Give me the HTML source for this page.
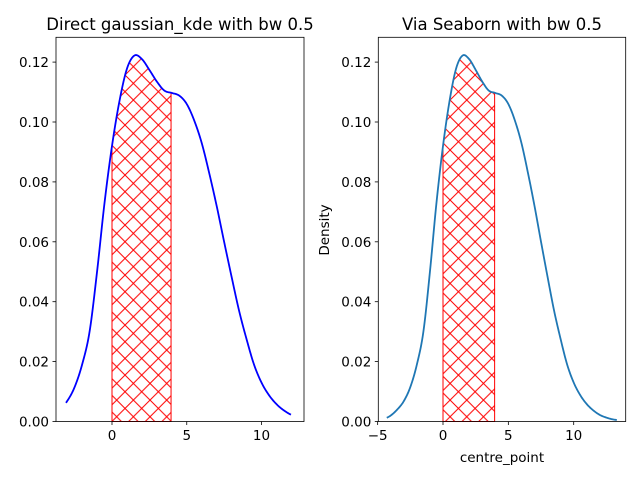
<!DOCTYPE html>
<html><head><meta charset="utf-8"><style>
body{margin:0;background:#fff;}
svg{display:block;font-family:"DejaVu Sans","Liberation Sans",sans-serif;}
</style></head><body>
<svg id="chart" width="640" height="480" viewBox="0 0 640 480">
<defs>
<pattern id="hatch" patternUnits="userSpaceOnUse" width="16.67" height="16.67">
<path d="M0,0L16.67,16.67M16.67,0L0,16.67" stroke="red" stroke-width="1"/>
</pattern>
</defs>
<rect width="640" height="480" fill="#fff"/>
<g id="left"></g>
<g id="right"></g>
</svg>
<script>
const kdeX = [-4.5,-4,-3.5,-3,-2.5,-2,-1.5,-1,-0.5,0,0.5,1,1.5,2,2.5,3,3.5,4,4.5,5,5.5,6,6.5,7,7.5,8,8.5,9,9.5,10,10.5,11,11.5,12,12.5,13,13.5];
const kdeY = [0.0008,0.0020,0.0040,0.0068,0.0115,0.0190,0.0300,0.0500,0.0730,0.0920,0.1070,0.1178,0.1222,0.1210,0.1174,0.1135,0.1105,0.1097,0.1088,0.1060,0.1005,0.0930,0.0830,0.0720,0.0600,0.0483,0.0370,0.0275,0.0190,0.0130,0.0088,0.0058,0.0037,0.0022,0.0013,0.0007,0.0004];
const shadeRange = [0, 3.95];
const leftXTicks = [0,5,10];
const rightXTicks = [-5,0,5,10];
const yTicks = [0.00,0.02,0.04,0.06,0.08,0.10,0.12];
const NS="http://www.w3.org/2000/svg";
function mk(tag,attrs,parent){const e=document.createElementNS(NS,tag);for(const k in attrs)e.setAttribute(k,attrs[k]);parent.appendChild(e);return e;}
function interp(x){
  for(let i=0;i<kdeX.length-1;i++){
    if(x>=kdeX[i]&&x<=kdeX[i+1]){
      const x0=kdeX[Math.max(i-1,0)],x1=kdeX[i],x2=kdeX[i+1],x3=kdeX[Math.min(i+2,kdeX.length-1)];
      const y0=kdeY[Math.max(i-1,0)],y1=kdeY[i],y2=kdeY[i+1],y3=kdeY[Math.min(i+2,kdeY.length-1)];
      const h=x2-x1,t=(x-x1)/h;
      const m1=(y2-y0)/(x2-x0||1)*h, m2=(y3-y1)/(x3-x1||1)*h;
      const t2=t*t,t3=t2*t;
      return (2*t3-3*t2+1)*y1+(t3-2*t2+t)*m1+(-2*t3+3*t2)*y2+(t3-t2)*m2;
    }
  }
  return 0;
}
function panel(g,cfg){
  const sx=x=>cfg.x0+(x-cfg.xmin)*cfg.kx;
  const sy=y=>421.5-y*2995;
  let d=`M${sx(shadeRange[0])},${sy(0)}`;
  for(let x=shadeRange[0];x<=shadeRange[1]+1e-9;x+=0.05)d+=`L${sx(x)},${sy(interp(x))}`;
  d+=`L${sx(shadeRange[1])},${sy(interp(shadeRange[1]))}L${sx(shadeRange[1])},${sy(0)}Z`;
  const f=mk('path',{d:d,fill:'url(#hatch)',stroke:'red','stroke-width':1},g);
  
  
  let c='';
  for(let x=cfg.cmin;x<=cfg.cmax+1e-9;x+=0.05)c+=(c?'L':'M')+sx(x)+','+sy(interp(x));
  const p=mk('path',{d:c,fill:'none',stroke:cfg.color,'stroke-width':1.8,'stroke-linejoin':'round'},g);
  
  
  const fr=mk('rect',{x:cfg.left,y:37.3,width:cfg.right-cfg.left,height:421.5-37.3,fill:'none',stroke:'#000','stroke-width':0.8},g);
  
  
  cfg.xt.forEach(v=>{
    const X=sx(v);
    mk('line',{x1:X,x2:X,y1:421.5,y2:425,stroke:'#000','stroke-width':0.8},g);
    const t=mk('text',{x:X,y:440,'font-size':13.5,'text-anchor':'middle'},g);
    t.textContent=v<0?'\u2212'+Math.abs(v):String(v);
    
    
  });
  yTicks.forEach(v=>{
    const Y=sy(v);
    mk('line',{x1:cfg.left-3.5,x2:cfg.left,y1:Y,y2:Y,stroke:'#000','stroke-width':0.8},g);
    const t=mk('text',{x:cfg.left-7,y:Y+5,'font-size':13.5,'text-anchor':'end'},g);
    t.textContent=v.toFixed(2);
    
    
  });
  const ti=mk('text',{x:(cfg.left+cfg.right)/2,y:30,'font-size':16.5,'text-anchor':'middle'},g);
  ti.textContent=cfg.title;
  
  
}
panel(document.getElementById('left'),{x0:112,xmin:0,kx:14.95,left:56,right:304,cmin:-3.08,cmax:11.97,color:'#0000ff',xt:leftXTicks,title:'Direct gaussian_kde with bw 0.5'});
const rg=document.getElementById('right');
panel(rg,{x0:443,xmin:0,kx:13.07,left:378.3,right:625.7,cmin:-4.3,cmax:13.3,color:'#1f77b4',xt:rightXTicks,title:'Via Seaborn with bw 0.5'});
const xl=mk('text',{x:502,y:462,'font-size':13.5,'text-anchor':'middle'},rg);
xl.textContent='centre_point';


const yl=mk('text',{x:0,y:0,'font-size':13.5,'text-anchor':'middle',transform:'translate(329,230) rotate(-90)'},rg);
yl.textContent='Density';


</script>
</body></html>
